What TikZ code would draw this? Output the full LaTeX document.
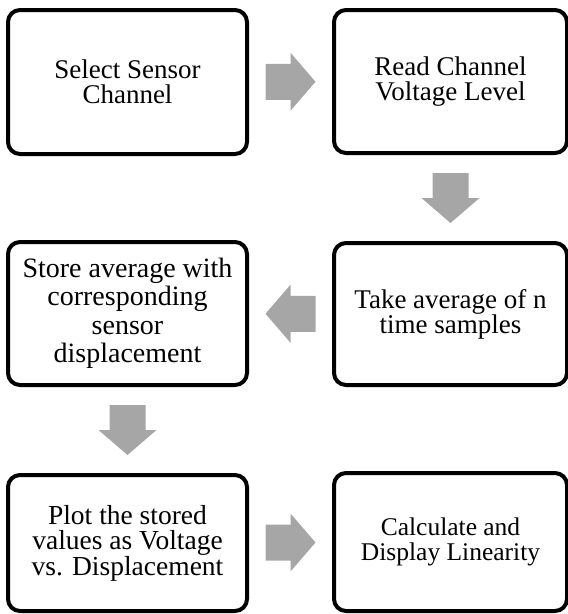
\documentclass[tikz,border=0pt]{standalone}
\usepackage{fontspec}
\setmainfont{Liberation Serif}
\usetikzlibrary{calc}
\definecolor{arrowgray}{RGB}{166,166,166}
\tikzset{
  x=1pt, y=-1pt,
  stepbox/.style={draw=black, line width=4pt, rounded corners=12pt, fill=white,
    minimum width=239pt, align=center, inner sep=0pt,
    font=\fontsize{27}{25}\selectfont},
  arrowfill/.style={fill=arrowgray},
}
\newcommand{\blockarrow}[2]{%
  \fill[arrowfill, shift={(#1)}, rotate=#2, x=1pt, y=1pt]
    (-25,-18) -- (0,-18) -- (0,-29) -- (25,0) -- (0,29) -- (0,18) -- (-25,18) -- cycle;}
\begin{document}
\begin{tikzpicture}
\useasboundingbox (0,0) rectangle (568,614);
\node[stepbox, minimum height=144pt] (b1) at (127.5,82) {Select Sensor\\Channel};
\node[stepbox, minimum width=233pt, minimum height=143pt] (b2) at (450.5,81.5) {Read Channel\\Voltage Level};
\node[stepbox, minimum height=143pt, font=\fontsize{28}{28.5}\selectfont] (b3) at (127.5,313.5) {Store average with\\corresponding\\sensor\\displacement};
\node[stepbox, minimum width=233pt, minimum height=142pt] (b4) at (450.5,314) {Take average of n\\time samples};
\node[stepbox, minimum height=136pt, font=\fontsize{27.5}{25}\selectfont] (b5) at (127.5,543) {Plot the stored\\values as Voltage\\vs. Displacement};
\node[stepbox, minimum width=233pt, minimum height=138pt, font=\fontsize{25.5}{25}\selectfont] (b6) at (450.5,542) {Calculate and\\Display Linearity};
\coordinate (m1) at ($(b1.east)!0.5!(b2.west)$);
\coordinate (m2) at ($(b2.south)!0.5!(b4.north)$);
\coordinate (m3) at ($(b4.west)!0.5!(b3.east)$);
\coordinate (m4) at ($(b3.south)!0.5!(b5.north)$);
\coordinate (m5) at ($(b5.east)!0.5!(b6.west)$);
\blockarrow{m1}{0}
\blockarrow{m2}{-90}
\blockarrow{m3}{180}
\blockarrow{m4}{-90}
\blockarrow{m5}{0}
\end{tikzpicture}
\end{document}
